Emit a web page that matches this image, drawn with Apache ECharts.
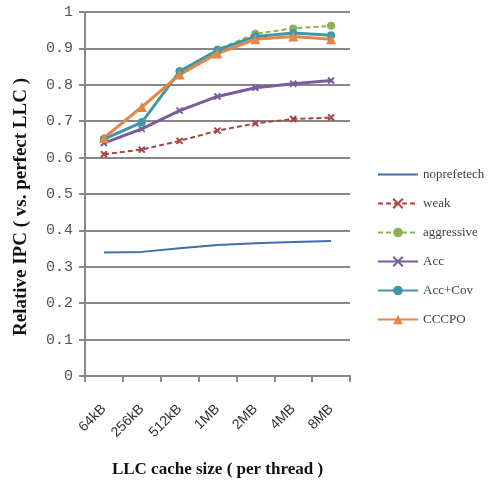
<!DOCTYPE html>
<html>
<head>
<meta charset="utf-8">
<script src="https://cdn.jsdelivr.net/npm/echarts@6/dist/echarts.min.js"></script>
<style>
html, body { margin: 0; padding: 0; background: #fff; }
#main { width: 502px; height: 485px; }
</style>
</head>
<body>
<div id="main"></div>
<script>
var categories = ['64kB', '256kB', '512kB', '1MB', '2MB', '4MB', '8MB'];
var noprefetch = [0.339, 0.341, 0.351, 0.360, 0.365, 0.368, 0.371];
var weak = [0.609, 0.622, 0.646, 0.674, 0.694, 0.706, 0.710];
var aggressive = [0.651, 0.697, 0.837, 0.897, 0.940, 0.955, 0.962];
var acc = [0.640, 0.679, 0.729, 0.768, 0.792, 0.803, 0.812];
var accCov = [0.651, 0.697, 0.837, 0.895, 0.933, 0.942, 0.936];
var cccpo = [0.654, 0.739, 0.828, 0.886, 0.925, 0.933, 0.925];

function drawChart() {
    var dom = document.getElementById('main');
    var chart = echarts.init(dom);
    var option = {
        animation: false,
        grid: {
            left: 85,
            right: 152,
            top: 12,
            bottom: 109
        },
        legend: {
            orient: 'vertical',
            left: 372,
            top: 163,
            itemWidth: 40,
            itemHeight: 12,
            itemGap: 16,
            textStyle: {
                fontFamily: 'Liberation Serif',
                fontSize: 13,
                color: '#404040'
            },
            data: [
                { name: 'noprefetech', itemStyle: { opacity: 0 } },
                'weak', 'aggressive', 'Acc', 'Acc+Cov', 'CCCPO'
            ]
        },
        xAxis: {
            type: 'category',
            data: categories,
            boundaryGap: true,
            axisLine: { lineStyle: { color: '#888', width: 2 } },
            axisTick: { show: true, length: 6, lineStyle: { color: '#888', width: 2 } },
            axisLabel: {
                rotate: 45,
                margin: 31,
                fontFamily: 'Liberation Sans',
                fontSize: 14,
                color: '#333'
            },
            name: 'LLC cache size ( per thread )',
            nameLocation: 'middle',
            nameGap: 85,
            nameTextStyle: {
                fontFamily: 'Liberation Serif',
                fontWeight: 'bold',
                fontSize: 17,
                color: '#111'
            }
        },
        yAxis: {
            type: 'value',
            min: 0,
            max: 1,
            interval: 0.1,
            axisLine: { show: true, lineStyle: { color: '#888', width: 2 } },
            axisTick: { show: true, length: 6, lineStyle: { color: '#888', width: 2 } },
            splitLine: { lineStyle: { color: '#888', width: 2 } },
            axisLabel: {
                margin: 12,
                fontFamily: 'Liberation Mono',
                fontSize: 15,
                color: '#555',
                formatter: function(v) { return Math.round(v * 10) / 10 + ''; }
            },
            name: 'Relative IPC ( vs. perfect LLC )',
            nameLocation: 'middle',
            nameGap: 54,
            nameTextStyle: {
                fontFamily: 'Liberation Serif',
                fontWeight: 'bold',
                fontSize: 19,
                color: '#111',
                padding: [0, 26, 0, 0]
            }
        },
        series: [{
                name: 'noprefetech',
                type: 'line',
                data: noprefetch,
                color: '#3e6fa8',
                showSymbol: false,
                symbol: 'circle',
                symbolSize: 0,
                lineStyle: { width: 2 }
            },
            {
                name: 'weak',
                type: 'line',
                data: weak,
                color: '#a94442',
                symbol: 'path://M0,0 L10,10 M10,0 L0,10',
                symbolSize: 6,
                itemStyle: { borderColor: '#a94442', borderWidth: 2 },
                lineStyle: { width: 2, type: [5, 3] }
            },
            {
                name: 'aggressive',
                type: 'line',
                data: aggressive,
                color: '#8db150',
                symbol: 'circle',
                symbolSize: 8,
                lineStyle: { width: 2, type: [5, 3] }
            },
            {
                name: 'Acc',
                type: 'line',
                data: acc,
                color: '#7a5c9d',
                symbol: 'path://M0,0 L10,10 M10,0 L0,10',
                symbolSize: 6,
                itemStyle: { borderColor: '#7a5c9d', borderWidth: 2 },
                lineStyle: { width: 3 }
            },
            {
                name: 'Acc+Cov',
                type: 'line',
                data: accCov,
                color: '#3f97ad',
                symbol: 'circle',
                symbolSize: 8,
                lineStyle: { width: 3 }
            },
            {
                name: 'CCCPO',
                type: 'line',
                data: cccpo,
                color: '#e58644',
                symbol: 'triangle',
                symbolSize: 10,
                lineStyle: { width: 3 }
            }
        ]
    };
    chart.setOption(option, true);
}

drawChart();
</script>
</body>
</html>
